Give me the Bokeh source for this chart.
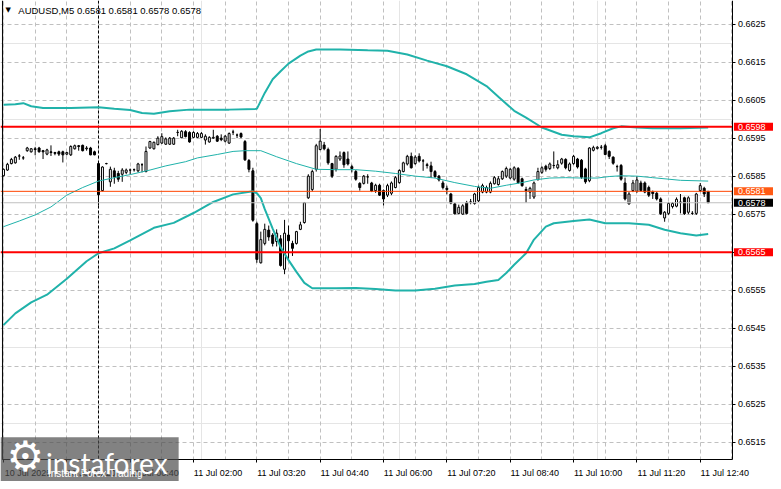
from bokeh.plotting import figure
from bokeh.models import (Range1d, LinearAxis, FixedTicker, Span, Label, BoxAnnotation,
                          ColumnDataSource, Grid, NumeralTickFormatter)
from bokeh.embed import file_html
from bokeh.resources import INLINE

# ---------------- data ----------------
symbol = "AUDUSD,M5"
open_ = [0.65851,0.65866,0.65883,0.65885,0.65903,0.65898,0.65917,0.65914,0.65922,0.65924,
         0.65917,0.65908,0.65914,0.65912,0.65914,0.65914,0.65908,0.65906,0.65922,0.65930,
         0.65931,0.65922,0.65924,0.65914,0.65883,0.65812,0.65883,0.65835,0.65864,0.65857,
         0.65855,0.65860,0.65866,0.65867,0.65864,0.65880,0.65862,0.65924,0.65922,0.65933,
         0.65937,0.65934,0.65934,0.65934,0.65965,0.65951,0.65967,0.65965,0.65952,0.65952,
         0.65952,0.65945,0.65940,0.65950,0.65955,0.65950,0.65942,0.65937,0.65966,0.65958,
         0.65962,0.65941,0.65891,0.65864,0.65725,0.65622,0.65673,0.65708,0.65695,0.65678,
         0.65685,0.65605,0.65695,0.65673,0.65673,0.65710,0.65728,0.65793,0.65815,0.65868,
         0.65920,0.65932,0.65920,0.65883,0.65868,0.65895,0.65912,0.65895,0.65875,0.65862,
         0.65831,0.65831,0.65848,0.65832,0.65812,0.65826,0.65812,0.65800,0.65805,0.65820,
         0.65833,0.65862,0.65882,0.65902,0.65883,0.65902,0.65890,0.65880,0.65877,0.65862,
         0.65850,0.65832,0.65818,0.65803,0.65777,0.65752,0.65750,0.65780,0.65782,0.65778,
         0.65785,0.65808,0.65808,0.65808,0.65830,0.65828,0.65843,0.65850,0.65845,0.65842,
         0.65870,0.65843,0.65815,0.65808,0.65795,0.65841,0.65860,0.65876,0.65870,0.65878,
         0.65872,0.65884,0.65894,0.65865,0.65883,0.65895,0.65892,0.65869,0.65838,0.65918,
         0.65923,0.65926,0.65930,0.65915,0.65900,0.65875,0.65878,0.65832,0.65777,0.65812,
         0.65810,0.65832,0.65832,0.65820,0.65808,0.65805,0.65790,0.65740,0.65752,0.65770,
         0.65771,0.65780,0.65793,0.65755,0.65752,0.65752,0.65812,0.65818,0.65810]
high_ = [0.65870,0.65885,0.65898,0.65903,0.65908,0.65903,0.65927,0.65924,0.65927,0.65927,
         0.65919,0.65922,0.65931,0.65914,0.65917,0.65917,0.65914,0.65931,0.65933,0.65932,
         0.65933,0.65929,0.65927,0.65917,0.65890,0.65876,0.65885,0.65875,0.65872,0.65864,
         0.65871,0.65870,0.65870,0.65870,0.65885,0.65884,0.65928,0.65943,0.65941,0.65955,
         0.65963,0.65952,0.65953,0.65953,0.65972,0.65971,0.65971,0.65968,0.65968,0.65966,
         0.65966,0.65960,0.65955,0.65972,0.65958,0.65960,0.65958,0.65965,0.65972,0.65962,
         0.65965,0.65945,0.65895,0.65872,0.65730,0.65704,0.65725,0.65720,0.65700,0.65710,
         0.65695,0.65735,0.65720,0.65680,0.65706,0.65730,0.65782,0.65855,0.65867,0.65935,
         0.65974,0.65940,0.65925,0.65885,0.65905,0.65915,0.65915,0.65915,0.65880,0.65866,
         0.65834,0.65853,0.65855,0.65835,0.65830,0.65830,0.65815,0.65830,0.65836,0.65850,
         0.65868,0.65888,0.65906,0.65912,0.65905,0.65910,0.65895,0.65885,0.65888,0.65866,
         0.65853,0.65838,0.65825,0.65806,0.65780,0.65775,0.65776,0.65785,0.65790,0.65806,
         0.65825,0.65830,0.65825,0.65836,0.65850,0.65850,0.65865,0.65875,0.65872,0.65876,
         0.65874,0.65846,0.65822,0.65822,0.65836,0.65872,0.65876,0.65880,0.65886,0.65915,
         0.65892,0.65898,0.65897,0.65886,0.65906,0.65898,0.65895,0.65872,0.65926,0.65930,
         0.65929,0.65932,0.65935,0.65918,0.65902,0.65880,0.65882,0.65846,0.65808,0.65840,
         0.65850,0.65838,0.65836,0.65825,0.65812,0.65808,0.65794,0.65758,0.65782,0.65782,
         0.65794,0.65803,0.65796,0.65797,0.65758,0.65806,0.65832,0.65822,0.65810]
low_ = [0.65849,0.65864,0.65881,0.65883,0.65893,0.65893,0.65914,0.65912,0.65905,0.65912,
        0.65895,0.65905,0.65903,0.65905,0.65903,0.65886,0.65905,0.65903,0.65920,0.65917,
        0.65915,0.65917,0.65905,0.65905,0.65773,0.65810,0.65881,0.65822,0.65830,0.65835,
        0.65835,0.65855,0.65855,0.65862,0.65860,0.65860,0.65860,0.65922,0.65920,0.65931,
        0.65935,0.65932,0.65932,0.65932,0.65955,0.65950,0.65952,0.65938,0.65950,0.65950,
        0.65950,0.65933,0.65938,0.65948,0.65940,0.65942,0.65939,0.65935,0.65958,0.65950,
        0.65950,0.65890,0.65860,0.65730,0.65622,0.65620,0.65668,0.65680,0.65665,0.65665,
        0.65612,0.65592,0.65630,0.65640,0.65670,0.65708,0.65725,0.65790,0.65810,0.65862,
        0.65918,0.65918,0.65880,0.65845,0.65862,0.65890,0.65872,0.65878,0.65860,0.65838,
        0.65812,0.65828,0.65830,0.65808,0.65806,0.65798,0.65773,0.65795,0.65800,0.65818,
        0.65830,0.65860,0.65878,0.65870,0.65880,0.65886,0.65864,0.65870,0.65845,0.65845,
        0.65836,0.65815,0.65802,0.65776,0.65749,0.65750,0.65748,0.65749,0.65776,0.65775,
        0.65782,0.65805,0.65805,0.65805,0.65828,0.65825,0.65840,0.65845,0.65842,0.65838,
        0.65830,0.65822,0.65780,0.65790,0.65790,0.65838,0.65856,0.65862,0.65866,0.65870,
        0.65868,0.65880,0.65868,0.65862,0.65880,0.65870,0.65843,0.65830,0.65834,0.65915,
        0.65920,0.65920,0.65905,0.65895,0.65880,0.65862,0.65838,0.65786,0.65775,0.65808,
        0.65806,0.65810,0.65805,0.65795,0.65790,0.65786,0.65748,0.65730,0.65748,0.65765,
        0.65768,0.65752,0.65748,0.65750,0.65748,0.65748,0.65808,0.65795,0.65780]
close_ = [0.65868,0.65881,0.65894,0.65900,0.65903,0.65898,0.65924,0.65922,0.65920,0.65914,
          0.65914,0.65919,0.65912,0.65910,0.65908,0.65906,0.65912,0.65928,0.65930,0.65928,
          0.65917,0.65924,0.65906,0.65906,0.65801,0.65874,0.65883,0.65868,0.65848,0.65842,
          0.65866,0.65866,0.65866,0.65867,0.65882,0.65880,0.65915,0.65941,0.65939,0.65950,
          0.65954,0.65948,0.65950,0.65950,0.65965,0.65968,0.65954,0.65940,0.65965,0.65962,
          0.65962,0.65955,0.65952,0.65952,0.65942,0.65946,0.65955,0.65962,0.65966,0.65958,
          0.65953,0.65893,0.65868,0.65734,0.65631,0.65683,0.65710,0.65690,0.65673,0.65700,
          0.65615,0.65700,0.65680,0.65660,0.65704,0.65722,0.65780,0.65850,0.65862,0.65930,
          0.65942,0.65922,0.65885,0.65850,0.65902,0.65903,0.65880,0.65882,0.65870,0.65842,
          0.65820,0.65850,0.65848,0.65811,0.65826,0.65800,0.65790,0.65825,0.65832,0.65846,
          0.65865,0.65885,0.65902,0.65872,0.65900,0.65890,0.65890,0.65878,0.65862,0.65849,
          0.65840,0.65820,0.65815,0.65779,0.65751,0.65768,0.65772,0.65752,0.65782,0.65803,
          0.65820,0.65825,0.65820,0.65831,0.65846,0.65843,0.65862,0.65870,0.65868,0.65872,
          0.65833,0.65825,0.65812,0.65818,0.65832,0.65862,0.65872,0.65868,0.65882,0.65878,
          0.65880,0.65895,0.65872,0.65882,0.65902,0.65874,0.65847,0.65835,0.65924,0.65925,
          0.65926,0.65926,0.65907,0.65902,0.65884,0.65875,0.65842,0.65790,0.65803,0.65832,
          0.65840,0.65812,0.65808,0.65800,0.65804,0.65790,0.65751,0.65755,0.65778,0.65778,
          0.65789,0.65782,0.65751,0.65793,0.65752,0.65803,0.65825,0.65803,0.65780]

# Bollinger bands, read at sample bars
bb_upper_idx = [0,3,5,7,10,17,24,28,32,35,38,42,47,57,64,65,66,68,70,72,75,77,79,85,92,
                97,102,107,112,117,122,125,129,132,136,141,144,148,151,154,156,160,164,171,178]
bb_upper = [0.66038,0.66039,0.66042,0.66034,0.66029,0.66029,0.66031,0.66027,0.66024,0.66016,
            0.66014,0.66021,0.66025,0.66025,0.66027,0.66048,0.66069,0.66105,0.66126,0.66146,
            0.66167,0.66178,0.66183,0.66183,0.66181,0.66180,0.66170,0.66154,0.66139,0.66118,
            0.66087,0.66059,0.66022,0.66004,0.65978,0.65959,0.65955,0.65952,0.65963,0.65976,
            0.65981,0.65978,0.65976,0.65976,0.65978]
bb_mid_idx = [0,4,8,12,16,20,24,28,32,37,41,46,49,54,58,61,65,69,74,79,84,89,94,99,104,
              109,114,119,123,127,131,134,138,142,146,150,153,156,160,164,171,178]
bb_mid = [0.65717,0.65732,0.65748,0.65769,0.65800,0.65820,0.65837,0.65846,0.65854,0.65866,
          0.65877,0.65888,0.65898,0.65907,0.65915,0.65917,0.65917,0.65901,0.65883,0.65868,
          0.65867,0.65867,0.65863,0.65857,0.65850,0.65845,0.65833,0.65823,0.65818,0.65826,
          0.65833,0.65840,0.65845,0.65846,0.65845,0.65845,0.65849,0.65851,0.65850,0.65846,
          0.65839,0.65837]
bb_lower_idx = [0,3,7,11,16,21,24,28,32,38,43,48,53,58,63,64,65,66,68,70,72,74,76,78,84,
                89,94,99,104,109,114,119,122,125,127,129,132,134,137,139,144,148,152,158,163,
                167,171,175,178]
bb_lower = [0.65458,0.65489,0.65518,0.65538,0.65580,0.65626,0.65647,0.65660,0.65681,0.65714,
            0.65727,0.65753,0.65782,0.65802,0.65810,0.65805,0.65792,0.65763,0.65712,0.65663,
            0.65629,0.65598,0.65569,0.65555,0.65555,0.65556,0.65553,0.65549,0.65549,0.65554,
            0.65562,0.65566,0.65572,0.65577,0.65595,0.65617,0.65647,0.65683,0.65717,0.65726,
            0.65732,0.65736,0.65726,0.65726,0.65722,0.65709,0.65700,0.65694,0.65698]

level_upper = 0.6598
level_lower = 0.6565
ask_price = 0.6581
bid_price = 0.6578
day_separator_bar = 24

price_ticks = [0.6515, 0.6525, 0.6535, 0.6545, 0.6555, 0.6565,
               0.6575, 0.6585, 0.6595, 0.6605, 0.6615, 0.6625]
time_labels = ["10 Jul 2025", "10 Jul 23:20", "11 Jul 00:40", "11 Jul 02:00",
               "11 Jul 03:20", "11 Jul 04:40", "11 Jul 06:00", "11 Jul 07:20",
               "11 Jul 08:40", "11 Jul 10:00", "11 Jul 11:20", "11 Jul 12:40"]
bars_per_label = 16
bars_per_grid = 8

# ---------------- layout helpers (reference pixel -> data) ----------------
def bx(px):
    return (px - 3) / 4.0

def py(px):
    return 0.6625 + (24 - px) / 38640.0

FONT = "Liberation Sans"
TEAL = "#20b2aa"
W, H = 773, 481            # canvas
REF_W, REF_H = 781, 489    # reference picture, scaled onto the canvas
AXIS_X, AXIS_Y = 740, 467  # reference position of the price scale and the time scale

p = figure(width=W, height=H, output_backend="svg", toolbar_location=None, title=None,
           x_range=Range1d(bx(0), bx(REF_W)), y_range=Range1d(py(REF_H), py(0)),
           x_axis_location=None, y_axis_location=None, min_border=0,
           background_fill_color="white", border_fill_color="white")
p.outline_line_color = None

# grids
n_bars = len(close_)
grid_x = list(range(0, n_bars + 8, bars_per_grid))
p.add_layout(Grid(dimension=0, ticker=FixedTicker(ticks=grid_x), grid_line_color="#c0c0c0",
                  grid_line_dash="4 3", grid_line_width=1))
p.add_layout(Grid(dimension=1, ticker=FixedTicker(ticks=price_ticks), grid_line_color="#c0c0c0",
                  grid_line_dash="4 3", grid_line_width=1))

# day separator
p.add_layout(Span(location=day_separator_bar, dimension="height", line_color="black",
                  line_dash="3 2", line_width=1, level="underlay"))

# candles
idx = list(range(n_bars))
src = ColumnDataSource(dict(
    x=idx, o=open_, h=high_, l=low_, c=close_,
    top=[max(o, c) for o, c in zip(open_, close_)],
    bottom=[min(o, c) for o, c in zip(open_, close_)],
    fill=["white" if c >= o else "black" for o, c in zip(open_, close_)],
))
p.segment(x0="x", y0="h", x1="x", y1="l", source=src, line_color="black", line_width=1)
p.vbar(x="x", top="top", bottom="bottom", width=0.5, source=src,
       fill_color="fill", line_color="black", line_width=1)

# Bollinger bands
p.line(bb_upper_idx, bb_upper, line_color=TEAL, line_width=2)
p.line(bb_lower_idx, bb_lower, line_color=TEAL, line_width=2)
p.line(bb_mid_idx, bb_mid, line_color=TEAL, line_width=1)

# horizontal levels
p.add_layout(Span(location=bid_price, dimension="width", line_color="#c0c0c0", line_width=1,
                  level="glyph"))
p.add_layout(Span(location=ask_price, dimension="width", line_color="#ff4500", line_width=1,
                  level="glyph"))
p.add_layout(Span(location=level_upper, dimension="width", line_color="#ff0000", line_width=2,
                  level="glyph"))
p.add_layout(Span(location=level_lower, dimension="width", line_color="#ff0000", line_width=2,
                  level="glyph"))
# left border of the chart window
p.add_layout(Span(location=bx(2), dimension="height", line_color="black", line_width=1,
                  level="glyph"))

# blank the scale areas (right of the price scale, below the time scale)
p.add_layout(BoxAnnotation(left=bx(AXIS_X), fill_color="white", fill_alpha=1.0,
                           line_color=None, level="glyph"))
p.add_layout(BoxAnnotation(top=py(AXIS_Y), fill_color="white", fill_alpha=1.0,
                           line_color=None, level="glyph"))

# axes (fixed at the chart window's edges)
yax = LinearAxis(ticker=FixedTicker(ticks=price_ticks),
                 formatter=NumeralTickFormatter(format="0.0000"),
                 fixed_location=bx(AXIS_X), bounds=(py(AXIS_Y), py(0)))
yax.axis_line_color = "black"
yax.major_tick_in = 0
yax.major_tick_out = 3
yax.minor_tick_line_color = None
yax.major_label_standoff = 2
yax.major_label_text_font = FONT
yax.major_label_text_font_size = "9px"
yax.major_label_text_color = "black"
p.add_layout(yax, "right")

label_bars = [k * bars_per_label for k in range(len(time_labels))]
label_shift = 6.1875  # half a label's width, so each text starts at its tick
label_centers = [b + label_shift for b in label_bars]
xax = LinearAxis(ticker=FixedTicker(ticks=label_centers, minor_ticks=label_bars),
                 major_label_overrides={c: t for c, t in zip(label_centers, time_labels)},
                 fixed_location=py(AXIS_Y), bounds=(bx(2), bx(AXIS_X)))
xax.axis_line_color = "black"
xax.major_tick_line_color = None
xax.major_tick_in = 0
xax.major_tick_out = 0
xax.minor_tick_line_color = "black"
xax.minor_tick_in = 0
xax.minor_tick_out = 3
xax.major_label_standoff = 5
xax.major_label_text_font = FONT
xax.major_label_text_font_size = "9px"
xax.major_label_text_color = "black"
p.add_layout(xax, "below")

# price boxes on the right scale
def side_label(val, bg):
    return Label(x=bx(741), y=val, text=f"{val:.4f}", text_align="left",
                 text_baseline="middle", text_font=FONT, text_font_size="9px",
                 text_color="white", background_fill_color=bg, background_fill_alpha=1.0,
                 padding=dict(left=4, right=8, top=1, bottom=1))

for val, bg in [(level_upper, "#ff0000"), (level_lower, "#ff0000"),
                (ask_price, "#ff5a14"), (bid_price, "black")]:
    p.add_layout(side_label(val, bg))

# title line
p.add_layout(Label(x=bx(5), y=py(10), text="\u25BC", text_font="DejaVu Sans",
                   text_font_size="7px", text_color="black", text_baseline="middle"))
p.add_layout(Label(x=bx(18), y=py(10), text=f"{symbol}  0.6581 0.6581 0.6578 0.6578",
                   text_font=FONT, text_font_size="9.5px", text_color="black",
                   text_baseline="middle"))

# watermark
p.add_layout(BoxAnnotation(right=bx(180), top=py(444), fill_color="#4d4d4d", fill_alpha=0.7,
                           line_color=None))
p.add_layout(Label(x=bx(25), y=py(464), text="\u2699", text_font="DejaVu Sans",
                   text_font_size="42px", text_color="white", text_align="center",
                   text_baseline="middle"))
p.add_layout(Label(x=bx(46), y=py(470), text="instaforex", text_font="Lato",
                   text_font_size="28px", text_color="white", text_baseline="alphabetic"))
p.add_layout(Label(x=bx(48), y=py(481), text="Instant Forex Trading", text_font=FONT,
                   text_font_size="10px", text_color="white", text_baseline="alphabetic"))

open("out.html", "w").write(file_html(p, INLINE))
